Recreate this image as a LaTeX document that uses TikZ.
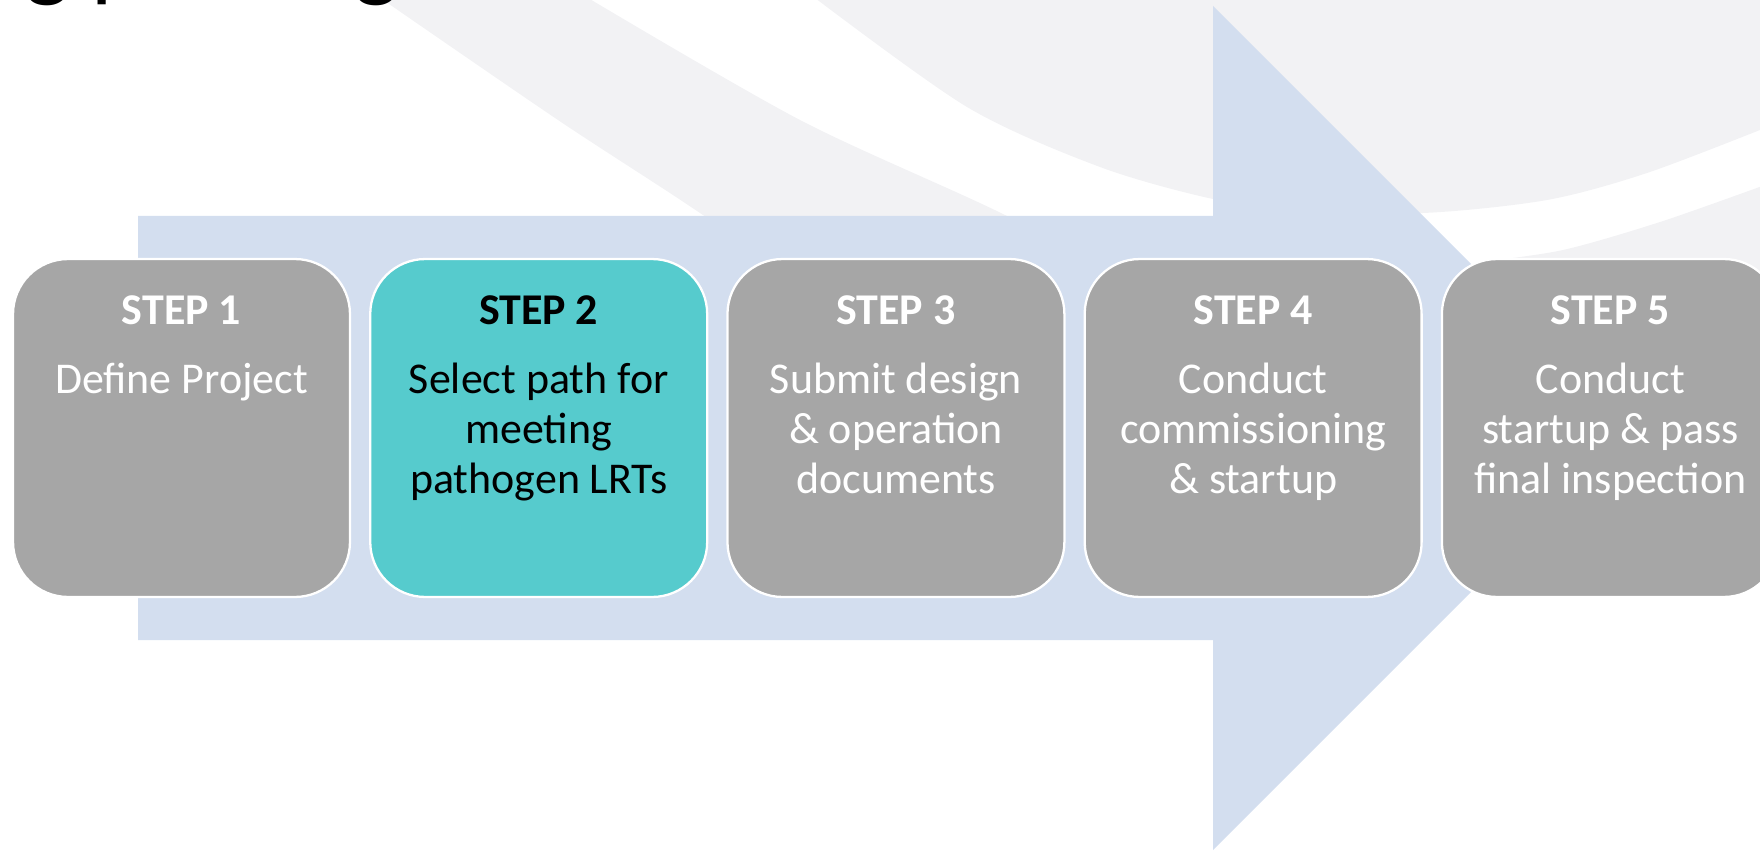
\documentclass[tikz,border=0pt]{standalone}
\usepackage{fontspec}
\setmainfont{Carlito}
\usetikzlibrary{positioning}

\definecolor{bandgray}{HTML}{F2F2F4}
\definecolor{arrowblue}{HTML}{D3DEEF}
\definecolor{boxgray}{HTML}{A6A6A6}
\definecolor{boxteal}{HTML}{56CBCD}

\begin{document}
\begin{tikzpicture}[
    x=0.02cm, y=-0.02cm,
    node distance = 0.36cm,
    stepbox/.style={rectangle,draw=white,line width=1.3pt,rounded corners=1.1cm,fill=boxgray,minimum width=6.74cm,minimum height=6.76cm,inner sep=0pt},
    steplabel/.style={anchor=base,inner sep=0pt,text=white,font=\bfseries\fontsize{25}{28.45}\selectfont},
    stepdesc/.style={anchor=base,inner sep=0pt,align=center,text=white,font=\fontsize{25}{28.45}\selectfont},
    titletext/.style={anchor=base west,inner sep=0pt,font=\fontsize{54}{60}\selectfont}
]
\useasboundingbox (0,0) rectangle (1760,851);

% Background bands
\fill[bandgray] plot[smooth] coordinates {(376,-5) (558,120) (700,213) (830,305)}
    -- plot[smooth] coordinates {(1180,310) (1007,216) (800,120) (583,-5)} -- cycle;
\fill[bandgray] plot[smooth] coordinates {(811,-5) (967,107) (1100,167) (1213,199) (1300,210) (1423,213) (1547,200) (1647,173) (1765,128)}
    -- (1765,-5) -- cycle;
\fill[bandgray] plot[smooth] coordinates {(1765,185) (1660,222) (1563,250) (1480,262)}
    -- (1500,400) -- (1765,400) -- cycle;

% Title (cut off at the top)
\node[titletext] (ttl1) at (25,-10) {g p};
\node[titletext] (ttl2) at (354,-10) {g};

% Big arrow
\fill[arrowblue] (138,216) -- (1213,216) -- (1213,6) -- (1635,428)
    -- (1213,850) -- (1213,640) -- (138,640) -- cycle;

% Steps
\node[stepbox] (s1) at (181.5,428) {};
\node[stepbox, fill=boxteal, right=of s1] (s2) {};
\node[stepbox, right=of s2] (s3) {};
\node[stepbox, right=of s3] (s4) {};
\node[stepbox, right=of s4] (s5) {};

% Step texts (base = last line)
\node[steplabel] (l1) at ([yshift=-1.34cm]s1.north) {STEP 1};
\node[stepdesc] (d1) at ([yshift=-2.72cm]s1.north) {Define Project};

\node[steplabel, text=black] (l2) at ([yshift=-1.34cm]s2.north) {STEP 2};
\node[stepdesc, text=black] (d2) at ([yshift=-4.72cm]s2.north) {Select path for\\meeting\\pathogen LRTs};

\node[steplabel] (l3) at ([yshift=-1.34cm]s3.north) {STEP 3};
\node[stepdesc] (d3) at ([yshift=-4.72cm]s3.north) {Submit design\\\& operation\\documents};

\node[steplabel] (l4) at ([yshift=-1.34cm]s4.north) {STEP 4};
\node[stepdesc] (d4) at ([yshift=-4.72cm]s4.north) {Conduct\\commissioning\\\& startup};

\node[steplabel] (l5) at ([yshift=-1.34cm]s5.north) {STEP 5};
\node[stepdesc] (d5) at ([yshift=-4.72cm]s5.north) {Conduct\\startup \& pass\\final inspection};

\end{tikzpicture}
\end{document}
